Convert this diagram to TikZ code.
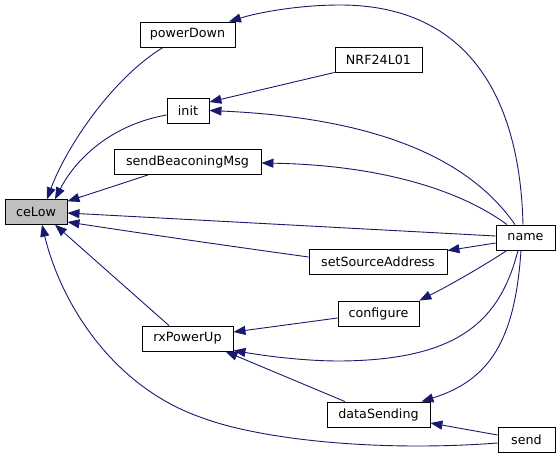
\documentclass[tikz,border=0pt]{standalone}
\usepackage{fontspec}
\setmainfont{DejaVu Sans}
\usetikzlibrary{arrows.meta}
\definecolor{mblue}{HTML}{191970}
\definecolor{cegray}{HTML}{BFBFBF}
\begin{document}
\begin{tikzpicture}[x=1pt,y=-1pt,
  box/.style={draw=black,line width=0.9pt,fill=white,minimum height=25pt,inner sep=0pt,
    font=\fontsize{12.7}{15}\selectfont},
  edge/.style={draw=mblue,line width=0.9pt,-{Triangle[length=12pt,width=9pt]}}]
\useasboundingbox (0,0) rectangle (560,459);
\node[box,fill=cegray,minimum width=62pt,minimum height=24.5pt] (ceLow) at (36,212) {ceLow};
\node[box,minimum width=95pt] (powerDown) at (187.5,34.5) {powerDown};
\node[box,minimum width=42pt] (init) at (188,110.5) {init};
\node[box,minimum width=147pt] (sbm) at (187.5,162) {sendBeaconingMsg};
\node[box,minimum width=87pt] (nrf) at (378.5,59.5) {NRF24L01};
\node[box,minimum width=59pt] (name) at (525.5,237.5) {name};
\node[box,minimum width=138pt] (ssa) at (378,262) {setSourceAddress};
\node[box,minimum width=81pt] (configure) at (378.5,313.5) {configure};
\node[box,minimum width=91pt] (rx) at (187.5,338.5) {rxPowerUp};
\node[box,minimum width=103pt] (ds) at (378.5,414.5) {dataSending};
\node[box,minimum width=57pt] (send) at (526.5,439.5) {send};

% callers of ceLow
\draw[edge] ([xshift=-24.5pt]powerDown.south) .. controls (110,80) and (65,150) .. ([xshift=11pt]ceLow.north);
\draw[edge] ([yshift=-4.5pt]init.west) .. controls (110,125) and (75,160) .. ([xshift=19pt]ceLow.north);
\draw[edge] ([xshift=-39.5pt]sbm.south) -- ([yshift=-2pt]ceLow.north east);
\draw[edge] ([yshift=1.5pt]name.west) -- ([yshift=-1pt]ceLow.east);
\draw[edge] ([yshift=5pt]ssa.west) .. controls (200,242) and (120,230) .. ([yshift=-10pt]ceLow.east);
\draw[edge] ([xshift=-18.5pt]rx.north) -- ([xshift=19pt]ceLow.south);
\draw[edge] ([yshift=-3.5pt]send.west) .. controls (380,452) and (260,440) .. (200,417)
  .. controls (110,385) and (60,300) .. ([xshift=6pt]ceLow.south);

% other edges
\draw[edge] ([xshift=-2.5pt]name.north) .. controls (520,100) and (470,5) .. (340,5)
  .. controls (300,5) and (260,12) .. ([xshift=41.5pt]powerDown.north);
\draw[edge] (nrf.south west) -- ([yshift=8.5pt]init.east);
\draw[edge] ([xshift=-10.5pt]name.north) .. controls (470,160) and (380,118) .. (init.east);
\draw[edge] ([xshift=-18.5pt]name.north) .. controls (460,190) and (380,165) .. ([yshift=-1pt]sbm.east);
\draw[edge] ([yshift=-5.5pt]name.west) -- ([yshift=-1.5pt]ssa.north east);
\draw[edge] ([xshift=-18.5pt]name.south) .. controls (480,268) and (450,285) .. (configure.north east);
\draw[edge] ([yshift=-4.5pt]configure.west) -- ([yshift=6.5pt]rx.east);
\draw[edge] ([xshift=-7.5pt]name.south) .. controls (500,320) and (460,360) .. (340,361)
  .. controls (300,361) and (260,355) .. ([yshift=1pt]rx.south east);
\draw[edge] ([xshift=-33.5pt]ds.north) -- ([xshift=-8pt]rx.south east);
\draw[edge] ([xshift=-4.5pt]name.south) .. controls (515,340) and (490,380) .. ([xshift=-9pt]ds.north east);
\draw[edge] ([yshift=4.5pt]send.west) -- ([yshift=-8.5pt]ds.east);
\end{tikzpicture}
\end{document}
